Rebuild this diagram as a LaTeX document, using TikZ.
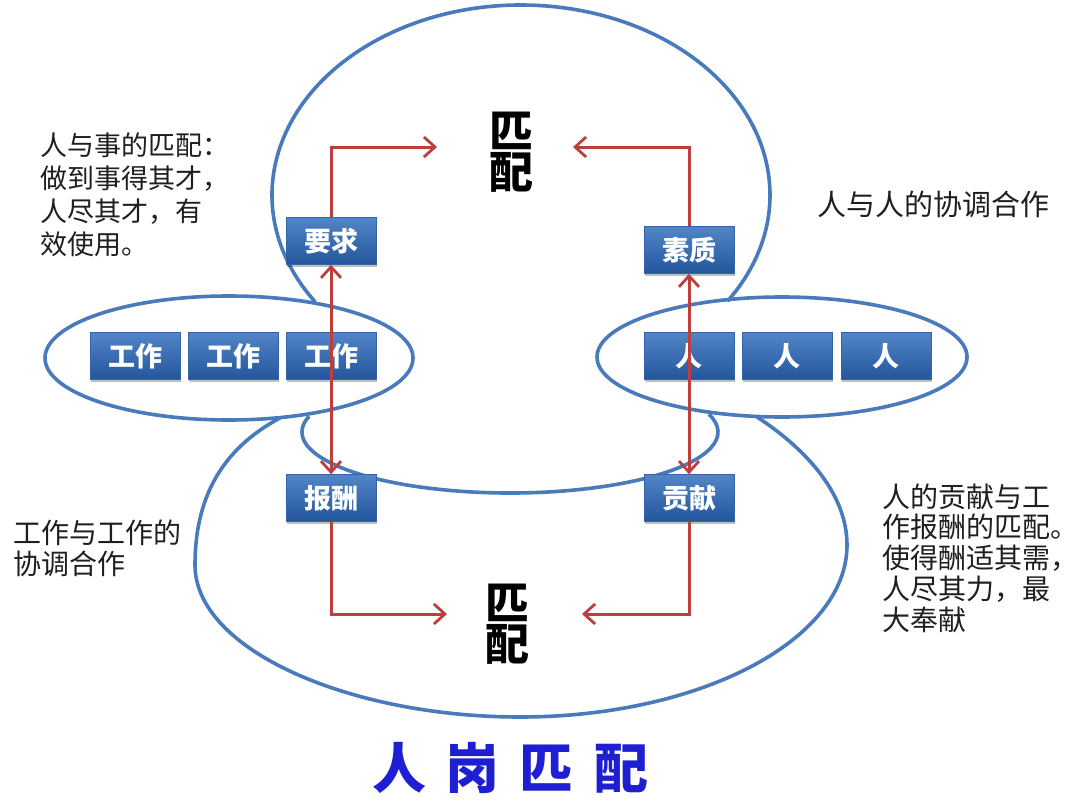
\documentclass[tikz,border=0pt]{standalone}
\usepackage{fontspec}
\newfontfamily\cjk{Noto Sans CJK SC}
\usetikzlibrary{arrows.meta,shadows}
\definecolor{ell}{RGB}{72,122,188}
\definecolor{arr}{RGB}{190,62,62}
\definecolor{boxtop}{RGB}{82,132,200}
\definecolor{boxbot}{RGB}{36,86,156}
\definecolor{boxline}{RGB}{55,100,168}
\definecolor{titleblue}{RGB}{30,30,210}
\begin{document}
\begin{tikzpicture}[x=1pt,y=-1pt,
  ring/.style={draw=ell, line width=3.6pt},
  tagbox/.style={minimum width=90pt, minimum height=47pt, inner sep=0pt,
    top color=boxtop, bottom color=boxbot, draw=boxline, line width=0.6pt,
    text=white, font=\cjk\bfseries\fontsize{27}{27}\selectfont,
    drop shadow={shadow xshift=1.2pt, shadow yshift=-2pt, opacity=0.25, fill=black}},
  barb/.tip={Straight Barb[length=11pt, width=20pt, line width=2.8pt]},
  link/.style={draw=arr, line width=3pt, -barb},
  dlink/.style={draw=arr, line width=3pt, barb-barb},
  match/.style={align=center, inner sep=0pt,
    font=\cjk\bfseries\fontsize{44}{44}\selectfont},
  note/.style={align=left, inner sep=0pt, text=black!88, anchor=west}
]
\useasboundingbox (0,0) rectangle (1078,808);
\fill[white] (0,0) rectangle (1078,808);

% rings
\coordinate (topc) at (521,195);
\draw[ring] (topc) ++(214.3:249pt and 190pt)
  arc[start angle=214.3, end angle=-34, x radius=249pt, y radius=190pt];
\draw[ring] (280,418) .. controls (220,450) and (195,500) .. (195,565)
  .. controls (195,650) and (350,717) .. (520,717)
  .. controls (700,717) and (847,640) .. (847,545)
  .. controls (847,490) and (800,445) .. (757,417);
\coordinate (innc) at (510,432);
\draw[ring] (innc) ++(165:208pt and 61pt)
  arc[start angle=165, end angle=377, x radius=208pt, y radius=61pt];
\draw[ring] (229,358) ellipse[x radius=184pt, y radius=62pt];
\draw[ring] (782,357) ellipse[x radius=185pt, y radius=60pt];

% boxes
\node[tagbox] (w1) at (135,356) {工作};
\node[tagbox] (w2) at (233,356) {工作};
\node[tagbox] (w3) at (331,356) {工作};
\node[tagbox] (p1) at (689,356) {人};
\node[tagbox] (p2) at (787,356) {人};
\node[tagbox] (p3) at (886,356) {人};
\node[tagbox] (yq) at (331,241) {要求};
\node[tagbox] (sz) at (689,250) {素质};
\node[tagbox] (bc) at (331,498) {报酬};
\node[tagbox] (gx) at (689,498) {贡献};

% match labels
\node[match] (m1) at (511,152) {匹\\[-3pt]配};
\node[match] (m2) at (507,624) {匹\\[-3pt]配};

% arrow ends
\coordinate (t1) at (437,147);
\coordinate (t2) at (573,147);
\coordinate (t3) at (447,614);
\coordinate (t4) at (582,614);

\draw[link] (yq.north) |- (t1);
\draw[link] (sz.north) |- (t2);
\draw[dlink] (bc.north) -- (yq.south);
\draw[dlink] (gx.north) -- (sz.south);
\draw[link] (bc.south) |- (t3);
\draw[link] (gx.south) |- (t4);

% notes
\node[note, font=\cjk\fontsize{27}{33}\selectfont] (n1) at (40,194.5)
  {人与事的匹配：\\做到事得其才，\\人尽其才，有\\效使用。};
\node[note, font=\cjk\fontsize{29}{33}\selectfont] (n2) at (817,204)
  {人与人的协调合作};
\node[note, font=\cjk\fontsize{28}{31}\selectfont] (n3) at (13,548)
  {工作与工作的\\协调合作};
\node[note, font=\cjk\fontsize{28}{30.8}\selectfont] (n4) at (882,558)
  {人的贡献与工\\作报酬的匹配。\\使得酬适其需，\\人尽其力，最\\大奉献};

% title
\node[inner sep=0pt, text=titleblue, font=\cjk\bfseries\fontsize{54}{54}\selectfont] (tt) at (510,768)
  {人\hspace{20pt}岗\hspace{20pt}匹\hspace{20pt}配};
\end{tikzpicture}
\end{document}
